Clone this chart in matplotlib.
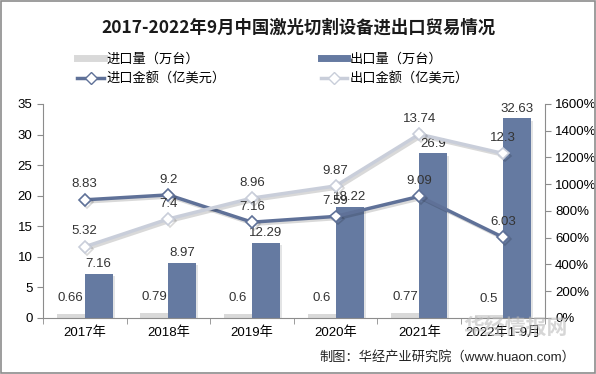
import matplotlib.pyplot as plt
import matplotlib.patheffects as pe
import numpy as np
from matplotlib.patches import Rectangle
from matplotlib.lines import Line2D

plt.rcParams['font.family'] = ['Liberation Sans', 'Noto Sans CJK SC']

years      = ['2017年', '2018年', '2019年', '2020年', '2021年', '2022年1-9月']
import_qty = [0.66, 0.79, 0.6, 0.6, 0.77, 0.5]
export_qty = [7.16, 8.97, 12.29, 18.22, 26.9, 32.63]
import_amt = [8.83, 9.2, 7.16, 7.59, 9.09, 6.03]
export_amt = [5.32, 7.4, 8.96, 9.87, 13.74, 12.3]

c_imp_bar  = '#d9d9d9'
c_exp_bar  = '#657aa1'
c_imp_line = '#5f7198'
c_exp_line = '#c9ceda'

fig = plt.figure(figsize=(5.96, 3.74), dpi=100)
fig.patches.append(Rectangle((0.002, 0.003), 0.996, 0.994, transform=fig.transFigure,
                             fill=False, edgecolor='#8c8c8c', linewidth=1.2))

ax = fig.add_axes([0.072, 0.150, 0.842, 0.572])
ax2 = ax.twinx()
x = np.arange(len(years))
w = 0.335

shadow = [pe.SimplePatchShadow(offset=(1.5, -1.5), alpha=0.12), pe.Normal()]
ax.bar(x - w/2, import_qty, w, color=c_imp_bar, zorder=2, path_effects=shadow)
ax.bar(x + w/2, export_qty, w, color=c_exp_bar, zorder=2, path_effects=shadow)
for xi, v in zip(x, import_qty):
    ax.text(xi - w/2, v + 1.6, f'{v:g}', ha='center', va='bottom', fontsize=9.5, color='#333333')
for xi, v in zip(x, export_qty):
    ax.text(xi + w/2, v + 0.6, f'{v:g}', ha='center', va='bottom', fontsize=9.5, color='#333333')

ax.set_xlim(-0.5, len(years) - 0.5)
ax.set_ylim(0, 35)
ax.set_yticks(range(0, 36, 5))
ax.set_xticks(x)
ax.set_xticklabels(years)
ax.set_xticks(np.arange(-0.5, len(years), 1), minor=True)
ax.tick_params(axis='x', which='major', length=0, labelsize=9.5, pad=6)
ax.tick_params(axis='x', which='minor', length=4, color='#8c8c8c')
ax.tick_params(axis='y', labelsize=9.5, length=4, color='#8c8c8c')

lshadow = [pe.SimpleLineShadow(offset=(1.5, -1.5), alpha=0.15), pe.Normal()]
ax2.plot(x, np.array(import_amt) * 100, color=c_imp_line, lw=2.5, marker='D',
         markersize=6, markerfacecolor='white', markeredgecolor=c_imp_line,
         markeredgewidth=1.2, zorder=3, path_effects=lshadow)
ax2.plot(x, np.array(export_amt) * 100, color=c_exp_line, lw=2.5, marker='D',
         markersize=6, markerfacecolor='white', markeredgecolor=c_exp_line,
         markeredgewidth=1.2, zorder=3, path_effects=lshadow)
for xi, v in zip(x, import_amt):
    ax2.text(xi, v * 100 + 70, f'{v:g}', ha='center', va='bottom', fontsize=9.5, color='#333333')
for xi, v in zip(x, export_amt):
    ax2.text(xi, v * 100 + 70, f'{v:g}', ha='center', va='bottom', fontsize=9.5, color='#333333')
ax2.set_ylim(0, 1600)
ax2.set_yticks(range(0, 1601, 200))
ax2.set_yticklabels([f'{t}%' for t in range(0, 1601, 200)])
ax2.tick_params(axis='y', labelsize=9.5, length=4, color='#8c8c8c')

for a in (ax, ax2):
    for s in a.spines.values():
        s.set_visible(False)
    a.spines['left'].set_visible(a is ax)
    a.spines['right'].set_visible(a is ax2)
    a.spines['bottom'].set_visible(a is ax)
    for s in ('left', 'right', 'bottom'):
        a.spines[s].set_color('#8c8c8c')

fig.text(0.5, 0.925, '2017-2022年9月中国激光切割设备进出口贸易情况', ha='center', va='center',
         fontsize=12.5, fontweight='bold', family=['Noto Sans CJK SC'], color='#1a1a1a')

handles = [
    Line2D([], [], color=c_imp_bar, lw=5),
    Line2D([], [], color=c_imp_line, lw=2.5, marker='D', markersize=6,
           markerfacecolor='white', markeredgecolor=c_imp_line),
    Line2D([], [], color=c_exp_bar, lw=5),
    Line2D([], [], color=c_exp_line, lw=2.5, marker='D', markersize=6,
           markerfacecolor='white', markeredgecolor=c_exp_line),
]
labels = ['进口量（万台）', '进口金额（亿美元）', '出口量（万台）', '出口金额（亿美元）']
fig.legend(handles, labels, ncol=2, loc='upper left', bbox_to_anchor=(0.13, 0.86),
           frameon=False, columnspacing=7.2, handlelength=2.0,
           handletextpad=0.2, labelspacing=0.55, borderaxespad=0, borderpad=0,
           prop={'family': ['Noto Sans CJK SC'], 'size': 9.5})

fig.text(0.965, 0.045, '制图：华经产业研究院（www.huaon.com）', ha='right', va='center',
         fontsize=9.5, color='#222222')
fig.text(0.865, 0.125, '华经情报网', ha='center', va='center', fontsize=15,
         fontweight='bold', color='#bbbbbb', alpha=0.6, family=['Noto Sans CJK SC'])

fig.savefig('out.png', dpi=100)
